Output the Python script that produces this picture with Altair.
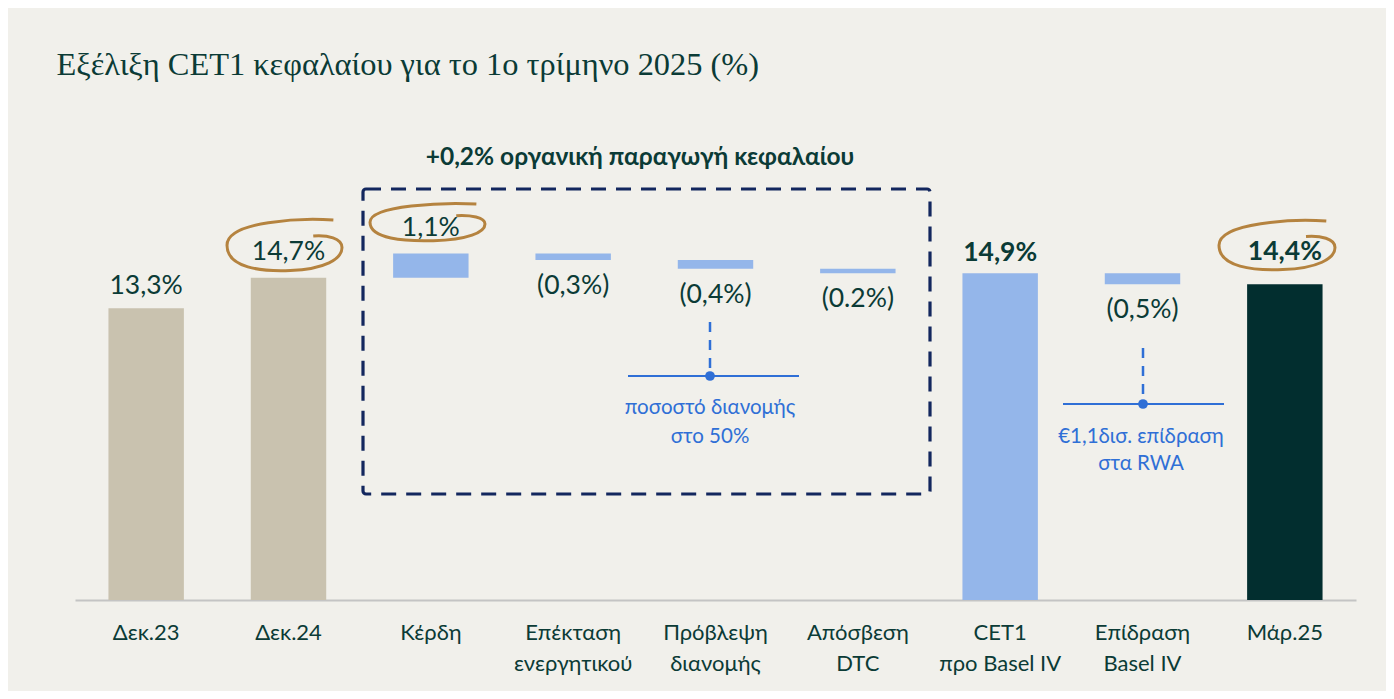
import altair as alt
import pandas as pd

# ---------------- data ----------------
categories = ["Δεκ.23", "Δεκ.24", "Κέρδη", "Επέκταση\nενεργητικού", "Πρόβλεψη\nδιανομής",
              "Απόσβεση\nDTC", "CET1\nπρο Basel IV", "Επίδραση\nBasel IV", "Μάρ.25"]
values = [13.3, 14.7, 1.1, -0.3, -0.4, -0.2, 14.9, -0.5, 14.4]
kinds = ["total", "total", "delta", "delta", "delta", "delta", "total", "delta", "total"]
labels = ["13,3%", "14,7%", "1,1%", "(0,3%)", "(0,4%)", "(0.2%)", "14,9%", "(0,5%)", "14,4%"]
groups = ["past", "past", "step", "step", "step", "step", "step", "step", "final"]
bold = [False, False, False, False, False, False, True, False, True]
circled = [False, True, True, False, False, False, False, False, True]

title_text = "Εξέλιξη CET1 κεφαλαίου για το 1ο τρίμηνο 2025 (%)"
header_text = "+0,2% οργανική παραγωγή κεφαλαίου"
note1 = "ποσοστό διανομής\nστο 50%"
note2 = "€1,1δισ. επίδραση\nστα RWA"

# ---------------- build table ----------------
rows = []
running = 0.0
for c, v, k, l, g, b, ci in zip(categories, values, kinds, labels, groups, bold, circled):
    if k == "total":
        s, e = 0.0, v
        running = v
    else:
        s, e = running, running + v
        running = e
    lo, hi = min(s, e), max(s, e)
    rows.append({"cat": c, "start": s, "end": e, "lo": lo, "hi": hi, "val": v,
                 "label": l, "group": g, "bold": b, "circ": ci,
                 "anchor": hi if v >= 0 else lo})
df = pd.DataFrame(rows)

TEAL = "#0B3B36"
BLUE = "#2F6FD6"
BROWN = "#B5833F"
NAVY = "#13275E"
SANS = "Lato"
VAL_FS = 26.5

xs = alt.X("cat:N", sort=categories,
           scale=alt.Scale(domain=categories, paddingInner=0.47, paddingOuter=0.235),
           axis=alt.Axis(title=None, labelAngle=0, domainColor="#C4C4C4", domainWidth=2,
                         ticks=False, grid=False, labelFont=SANS, labelFontSize=22,
                         labelColor=TEAL, labelPadding=22, labelLineHeight=31,
                         labelExpr="split(datum.label, '\\n')"))
ys = alt.Scale(domain=[0, 22.8], nice=False, zero=True)

base = alt.Chart(df)

bars = base.mark_bar().encode(
    x=xs,
    y=alt.Y("start:Q", scale=ys, axis=None),
    y2="end:Q",
    color=alt.Color("group:N", legend=None,
                    scale=alt.Scale(domain=["past", "step", "final"],
                                    range=["#C9C2AF", "#94B6EA", "#022E2F"])),
)

lbl_pos = base.transform_filter("datum.val >= 0 && !datum.circ && !datum.bold").mark_text(
    font=SANS, fontSize=VAL_FS, color=TEAL, baseline="middle", dy=-22
).encode(x=xs, y=alt.Y("anchor:Q", scale=ys), text="label:N")

lbl_bold = base.transform_filter("datum.bold && !datum.circ").mark_text(
    font=SANS, fontSize=VAL_FS, fontWeight="bold", color=TEAL, baseline="middle", dy=-20
).encode(x=xs, y=alt.Y("anchor:Q", scale=ys), text="label:N")

lbl_circ = base.transform_filter("datum.circ && !datum.bold").mark_text(
    font=SANS, fontSize=VAL_FS, color=TEAL, baseline="middle", dy=-26
).encode(x=xs, y=alt.Y("anchor:Q", scale=ys), text="label:N")

lbl_circ_b = base.transform_filter("datum.circ && datum.bold").mark_text(
    font=SANS, fontSize=VAL_FS, fontWeight="bold", color=TEAL, baseline="middle", dy=-32
).encode(x=xs, y=alt.Y("anchor:Q", scale=ys), text="label:N")

lbl_neg = base.transform_filter("datum.val < 0").mark_text(
    font=SANS, fontSize=VAL_FS, color=TEAL, baseline="middle", dy=26
).encode(x=xs, y=alt.Y("anchor:Q", scale=ys), text="label:N")

# ---------------- annotations ----------------
one = pd.DataFrame({"k": [0]})
ann = alt.Chart(one)

title = ann.mark_text(font="Liberation Serif", fontSize=32.4, color=TEAL, align="left",
                      baseline="alphabetic").encode(
    x=alt.value(-18.5), y=alt.value(-25), text=alt.value(title_text))

header = ann.mark_text(font=SANS, fontSize=24.5, fontWeight="bold", color=TEAL,
                       align="center", baseline="middle").encode(
    x=alt.value(565), y=alt.value(58), text=alt.value(header_text))

box = ann.mark_rect(fillOpacity=0, stroke=NAVY, strokeWidth=3.2, strokeDash=[15, 10],
                    cornerRadius=3).encode(
    x=alt.value(288), x2=alt.value(855), y=alt.value(89), y2=alt.value(394))

v1 = ann.mark_rule(color=BLUE, strokeWidth=2.5, strokeDash=[10, 8]).encode(
    x=alt.value(635), y=alt.value(222), y2=alt.value(274))
h1 = ann.mark_rule(color=BLUE, strokeWidth=2).encode(
    x=alt.value(553), x2=alt.value(724), y=alt.value(276))
d1 = ann.mark_point(filled=True, color=BLUE, size=95, opacity=1).encode(
    x=alt.value(635), y=alt.value(276))
t1 = ann.mark_text(font=SANS, fontSize=20.5, color=BLUE, align="center", baseline="middle",
                   lineBreak="\n", lineHeight=29).encode(
    x=alt.value(635), y=alt.value(308), text=alt.value(note1))

v2 = ann.mark_rule(color=BLUE, strokeWidth=2.5, strokeDash=[10, 8]).encode(
    x=alt.value(1068), y=alt.value(248), y2=alt.value(302))
h2 = ann.mark_rule(color=BLUE, strokeWidth=2).encode(
    x=alt.value(988), x2=alt.value(1149), y=alt.value(304))
d2 = ann.mark_point(filled=True, color=BLUE, size=95, opacity=1).encode(
    x=alt.value(1068), y=alt.value(304))
t2 = ann.mark_text(font=SANS, fontSize=20.5, color=BLUE, align="center", baseline="middle",
                   lineBreak="\n", lineHeight=27).encode(
    x=alt.value(1066), y=alt.value(337), text=alt.value(note2))


def loop_path(r):
    pts = [(0.85, -1.2), (0.3, -1.3), (-1.0, -1.15), (-1.0, -0.1),
           (-1.0, 0.9), (-0.4, 1.05), (0.1, 1.0),
           (0.7, 0.95), (1.0, 0.5), (1.0, 0.0),
           (1.0, -0.4), (0.75, -0.55), (0.5, -0.5)]
    f = lambda p: f"{p[0]:.3f},{p[1] * r:.3f}"
    s = "M" + f(pts[0])
    for i in range(1, len(pts), 3):
        s += " C" + " ".join(f(p) for p in pts[i:i + 3])
    return s


def ellipse(cx, cy, w, h):
    return ann.mark_point(shape=loop_path(h / w * 0.9), filled=False, stroke=BROWN,
                          strokeWidth=3, size=w * w, opacity=1).encode(
        x=alt.value(cx), y=alt.value(cy))


e1 = ellipse(209.5, 147.5, 115, 51)
e2 = ellipse(352.5, 124, 115, 37)
e3 = ellipse(1202, 147.5, 116, 49)

chart = alt.layer(
    bars, lbl_pos, lbl_bold, lbl_circ, lbl_circ_b, lbl_neg,
    title, header, box, v1, h1, d1, t1, v2, h2, d2, t2, e1, e2, e3
).properties(
    width=1281, height=500,
    autosize=alt.AutoSizeParams(type="none"),
    padding={"left": 67, "top": 92, "right": 30, "bottom": 91},
    background="#F1F0EB",
).configure_view(stroke=None)

chart.save("out.html", embed_options={"renderer": "svg", "actions": False})
